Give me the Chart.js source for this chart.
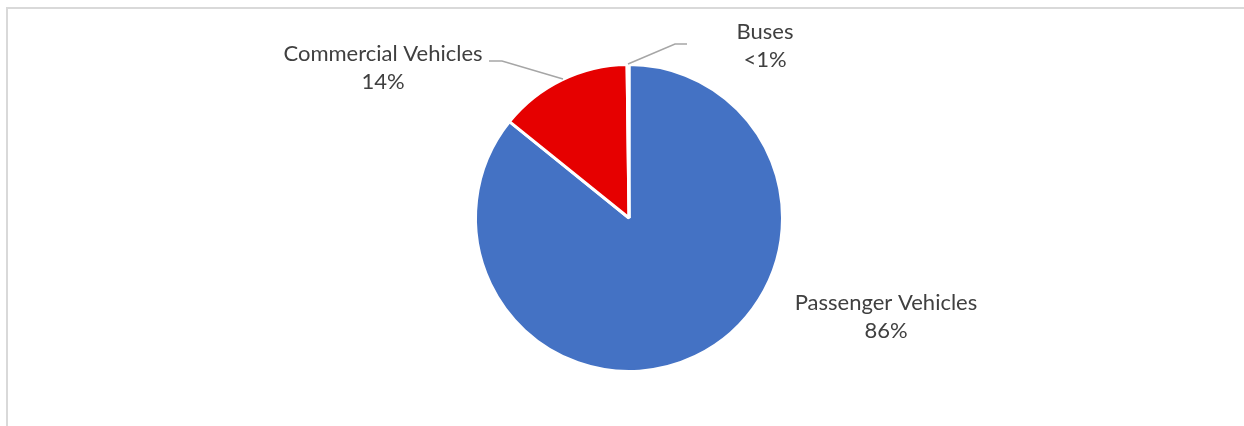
<!DOCTYPE html>
<html>
<head>
<meta charset="utf-8">
<script src="https://cdn.jsdelivr.net/npm/chart.js@4/dist/chart.umd.min.js"></script>
<style>
  html, body { margin: 0; padding: 0; background: #fff; }
  #wrap { position: relative; width: 1244px; height: 426px; }
</style>
</head>
<body>
<div id="wrap"><canvas id="chart" width="1244" height="426"></canvas></div>
<script>
// data
const categories = ['Passenger Vehicles', 'Commercial Vehicles', 'Buses'];
const shares = [85.8, 14.0, 0.2];
const shareLabels = ['86%', '14%', '<1%'];
const sliceColors = ['#4472C4', '#E60000', '#A5A5A5'];

// where each label sits, relative to the pie centre (in px), plus its leader line
const labelSpots = [
    { dx: 257, dy: 99, leader: null },
    { dx: -246, dy: -150, leader: [[-140, -157], [-127, -157], [-66, -139]] },
    { dx: 136, dy: -172, leader: [[58, -174], [46, -174], [-1, -154]] },
];

const frameAndLabels = {
    id: 'frameAndLabels',
    beforeDraw(chart) {
        const ctx = chart.ctx;
        ctx.save();
        ctx.strokeStyle = '#d9d9d9';
        ctx.lineWidth = 2;
        ctx.beginPath();
        ctx.moveTo(1244, 8);
        ctx.lineTo(7, 8);
        ctx.lineTo(7, 426);
        ctx.stroke();
        ctx.restore();
    },
    afterDatasetsDraw(chart) {
        const ctx = chart.ctx;
        const arcs = chart.getDatasetMeta(0).data;
        ctx.save();
        arcs.forEach((arc, i) => {
            const cx = arc.x, cy = arc.y;
            const spot = labelSpots[i];
            if (spot.leader) {
                ctx.strokeStyle = '#A6A6A6';
                ctx.lineWidth = 1.5;
                ctx.beginPath();
                spot.leader.forEach((p, k) => {
                    if (k === 0) ctx.moveTo(cx + p[0], cy + p[1]);
                    else ctx.lineTo(cx + p[0], cy + p[1]);
                });
                ctx.stroke();
            }
            ctx.fillStyle = '#404040';
            ctx.font = '22px Lato, "Open Sans", sans-serif';
            ctx.textAlign = 'center';
            ctx.textBaseline = 'middle';
            ctx.fillText(categories[i], cx + spot.dx, cy + spot.dy - 14);
            ctx.fillText(shareLabels[i], cx + spot.dx, cy + spot.dy + 14);
        });
        ctx.restore();
    }
};

new Chart(document.getElementById('chart'), {
    type: 'pie',
    data: {
        labels: categories,
        datasets: [{
            data: shares,
            backgroundColor: sliceColors,
            borderColor: '#ffffff',
            borderWidth: 3,
        }]
    },
    options: {
        responsive: false,
        animation: false,
        layout: { padding: { top: 63, bottom: 53, left: 14, right: 0 } },
        plugins: {
            legend: { display: false },
            tooltip: { enabled: false }
        }
    },
    plugins: [frameAndLabels]
});
</script>
</body>
</html>
